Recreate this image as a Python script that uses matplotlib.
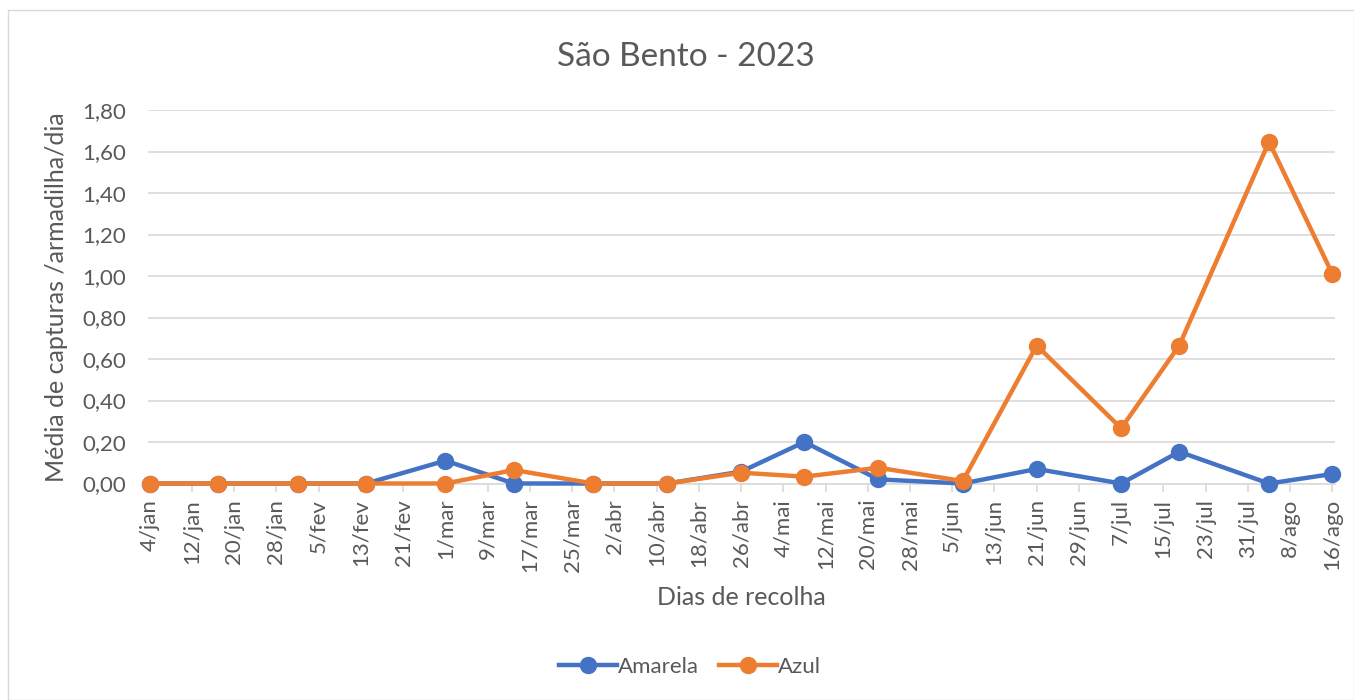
import matplotlib
matplotlib.use('Agg')
import matplotlib.pyplot as plt
from matplotlib.patches import Rectangle
from datetime import datetime, timedelta

# dias de recolha e médias
datas = ['2023-01-04', '2023-01-17', '2023-02-01', '2023-02-14', '2023-03-01', '2023-03-14',
         '2023-03-29', '2023-04-12', '2023-04-26', '2023-05-08', '2023-05-22', '2023-06-07',
         '2023-06-21', '2023-07-07', '2023-07-18', '2023-08-04', '2023-08-16']
amarela = [0, 0, 0, 0, 0.11, 0, 0, 0, 0.057, 0.20, 0.02, 0, 0.07, 0, 0.153, 0, 0.046]
azul = [0, 0, 0, 0, 0, 0.065, 0, 0, 0.052, 0.033, 0.076, 0.012, 0.665, 0.266, 0.665, 1.647, 1.01]
meses = ['jan', 'fev', 'mar', 'abr', 'mai', 'jun', 'jul', 'ago', 'set', 'out', 'nov', 'dez']
y_ticks = [0, 0.2, 0.4, 0.6, 0.8, 1.0, 1.2, 1.4, 1.6, 1.8]

plt.rcParams['font.family'] = ['Lato', 'DejaVu Sans']
cinza = '#595959'

x = [datetime.strptime(d, '%Y-%m-%d') for d in datas]
inicio = x[0]
fim = x[-1]
ticks = []
t = inicio
while t <= fim:
    ticks.append(t)
    t += timedelta(days=8)

fig = plt.figure(figsize=(13.54, 7), dpi=100)
ax = fig.add_axes([148/1354, 1-483.5/700, (1335-148)/1354, (483.5-110)/700])
fig.patches.append(Rectangle((8/1354, 0), 1-8/1354, 1-10/700, transform=fig.transFigure,
                             fill=False, edgecolor='#D9D9D9', linewidth=1))

ax.plot(x, amarela, color='#4472C4', linewidth=3.2, marker='o', markersize=11.5, label='Amarela',
        clip_on=False, zorder=3)
ax.plot(x, azul, color='#ED7D31', linewidth=3.2, marker='o', markersize=11.5, label='Azul',
        clip_on=False, zorder=4)

ax.set_xlim(inicio - timedelta(hours=8), fim + timedelta(hours=12))
ax.set_ylim(0, 1.8)
ax.set_xticks(ticks)
ax.set_xticklabels([str(d.day) + '/' + meses[d.month-1] for d in ticks], rotation=90)
ax.set_yticks(y_ticks)
ax.set_yticklabels([('%.2f' % v).replace('.', ',') for v in y_ticks])

ax.grid(axis='y', color='#D9D9D9', linewidth=1.2)
ax.set_axisbelow(True)
for s in ['top', 'right', 'left']:
    ax.spines[s].set_visible(False)
ax.spines['bottom'].set_color('#D9D9D9')
ax.spines['bottom'].set_linewidth(1.2)
ax.tick_params(axis='x', colors='#D9D9D9', labelcolor=cinza, labelsize=16, length=6, width=1.2, pad=5)
ax.tick_params(axis='y', length=0, labelcolor=cinza, labelsize=16, pad=16)

fig.text(686/1354, 1-57/700, 'São Bento - 2023', fontsize=24, color=cinza, ha='center', va='center')
ax.set_xlabel('Dias de recolha', fontsize=18, color=cinza, labelpad=10)
ax.set_ylabel('Média de capturas /armadilha/dia', fontsize=18, color=cinza, labelpad=10)

leg = fig.legend(*ax.get_legend_handles_labels(), loc='center', bbox_to_anchor=(690/1354, 1-667/700),
                 ncol=2, frameon=False, fontsize=16, handlelength=2.6, handletextpad=0.05,
                 columnspacing=0.9)
for txt in leg.get_texts():
    txt.set_color(cinza)

fig.savefig('out.png', dpi=100)
